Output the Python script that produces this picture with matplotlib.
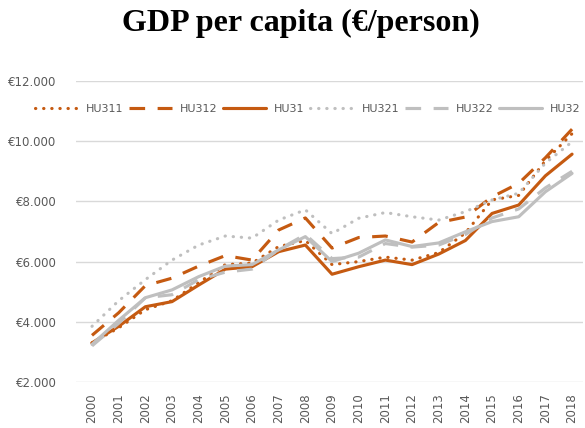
import matplotlib
matplotlib.use("Agg")
import matplotlib.pyplot as plt
import numpy as np

years = [str(y) for y in range(2000, 2019)]

# GDP per capita, EUR/person
hu311 = [3300, 3800, 4400, 4700, 5300, 5900, 5950, 6500, 6700, 5900, 6000, 6150, 6050, 6300, 6950, 8050, 8200, 9350, 10250]
hu312 = [3550, 4300, 5200, 5450, 5850, 6200, 6050, 7050, 7450, 6450, 6800, 6850, 6650, 7300, 7480, 8150, 8600, 9450, 10400]
hu31 = [3300, 3850, 4500, 4670, 5220, 5750, 5830, 6330, 6550, 5580, 5830, 6050, 5900, 6250, 6700, 7600, 7880, 8850, 9570]
hu321 = [3850, 4700, 5400, 6050, 6550, 6850, 6780, 7380, 7720, 6930, 7440, 7630, 7490, 7380, 7660, 8050, 8270, 9270, 9980]
hu322 = [3200, 3950, 4800, 4900, 5400, 5650, 5750, 6400, 6900, 6100, 6150, 6600, 6480, 6550, 6900, 7450, 7750, 8450, 9000]
hu32 = [3250, 4050, 4800, 5060, 5500, 5850, 5900, 6390, 6830, 6000, 6280, 6720, 6500, 6620, 6990, 7330, 7490, 8320, 8930]

orange = "#C55A11"
grey = "#BFBFBF"
dot = (0, (0.1, 2.5))
dash = (0, (5, 4))

fig = plt.figure(figsize=(5.85, 4.28), dpi=100)
ax = fig.add_axes([76/585, 1-382/428, (583-76)/585, (382-81)/428])

x = np.arange(len(years))
series = [
    ("HU311", hu311, orange, dot),
    ("HU312", hu312, orange, dash),
    ("HU31", hu31, orange, "-"),
    ("HU321", hu321, grey, dot),
    ("HU322", hu322, grey, dash),
    ("HU32", hu32, grey, "-"),
]
for name, vals, col, ls in series:
    ax.plot(x, vals, color=col, linestyle=ls, lw=2.25, label=name,
            dash_capstyle="round" if ls == dot else "butt", solid_capstyle="round")

ax.set_ylim(2000, 12000)
ax.set_xlim(-0.6, 18.41)
ax.set_yticks(range(2000, 12001, 2000))
ax.set_yticklabels(["€{:,}".format(v).replace(",", ".") for v in range(2000, 12001, 2000)])
ax.set_xticks(x)
ax.set_xticklabels(years, rotation=90)
ax.tick_params(axis="y", length=0, pad=14, labelsize=8.5, labelcolor="#595959")
ax.tick_params(axis="x", length=0, pad=8, labelsize=8.5, labelcolor="#595959")
ax.grid(axis="y", color="#D9D9D9", lw=1)
ax.set_axisbelow(True)
for s in ax.spines.values():
    s.set_visible(False)

fig.legend(loc="center", bbox_to_anchor=(0.526, 1-109/428), ncol=6, frameon=False,
           fontsize=8, handlelength=3.9, handletextpad=0.7, columnspacing=0.5,
           labelcolor="#595959")

fig.text(0.515, 1-31/428, "GDP per capita (€/person)", ha="center", va="baseline",
         fontsize=23, fontweight="bold", family="Liberation Serif")

fig.savefig("out.png", dpi=100)
